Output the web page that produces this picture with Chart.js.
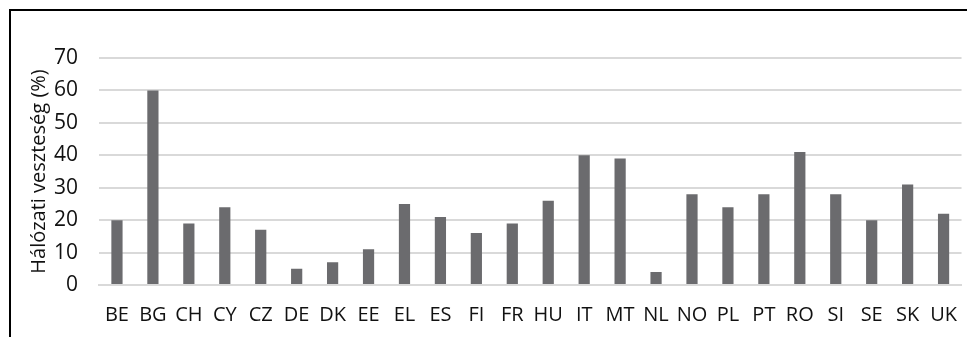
<!DOCTYPE html>
<html>
<head>
<meta charset="utf-8">
<script src="https://cdn.jsdelivr.net/npm/chart.js@4/dist/chart.umd.min.js"></script>
<style>
html,body{margin:0;padding:0;background:#fff;}
#wrap{position:relative;width:967px;height:337px;}
canvas{display:block;}
</style>
</head>
<body>
<div id="wrap"><canvas id="c" width="967" height="337"></canvas></div>
<script>
const categories = ["BE","BG","CH","CY","CZ","DE","DK","EE","EL","ES","FI","FR","HU","IT","MT","NL","NO","PL","PT","RO","SI","SE","SK","UK"];
const lossValues = [20,60,19,24,17,5,7,11,25,21,16,19,26,40,39,4,28,24,28,41,28,20,31,22];
const yTicks = [0,10,20,30,40,50,60,70];
const yTitle = "Hálózati veszteség (%)";

const frame = {
  id: 'frame',
  afterDraw(chart) {
    const ctx = chart.ctx;
    ctx.save();
    ctx.strokeStyle = '#000';
    ctx.lineWidth = 2;
    ctx.beginPath();
    ctx.moveTo(10, 337);
    ctx.lineTo(10, 10);
    ctx.lineTo(967, 10);
    ctx.stroke();
    ctx.restore();
  }
};

Chart.defaults.font.family = '"Open Sans", sans-serif';
new Chart(document.getElementById('c'), {
  type: 'bar',
  data: {
    labels: categories,
    datasets: [{
      data: lossValues,
      backgroundColor: '#6b6b6e',
      barPercentage: 0.6,
      categoryPercentage: 0.52
    }]
  },
  options: {
    responsive: false,
    animation: false,
    plugins: { legend: { display: false }, tooltip: { enabled: false } },
    layout: { padding: { top: 58, right: 1, bottom: 0, left: 0 } },
    scales: {
      x: {
        grid: { display: false },
        border: { display: true, color: '#d9d9d9', width: 2 },
        ticks: { color: '#111', font: { size: 20 }, padding: 10, maxRotation: 0, autoSkip: false },
        afterFit(s) { s.height = 52; }
      },
      y: {
        min: 0, max: 70,
        afterBuildTicks(s) { s.ticks = yTicks.map(v => ({ value: v })); },
        grid: { color: '#d9d9d9', lineWidth: 2, drawTicks: false },
        border: { display: false },
        ticks: { color: '#111', font: { size: 21 }, padding: 21 },
        title: { display: true, text: yTitle, color: '#111', font: { size: 20 }, padding: { top: 27, bottom: 0 } },
        afterFit(s) { s.width = 99; }
      }
    }
  },
  plugins: [frame]
});
</script>
</body>
</html>
